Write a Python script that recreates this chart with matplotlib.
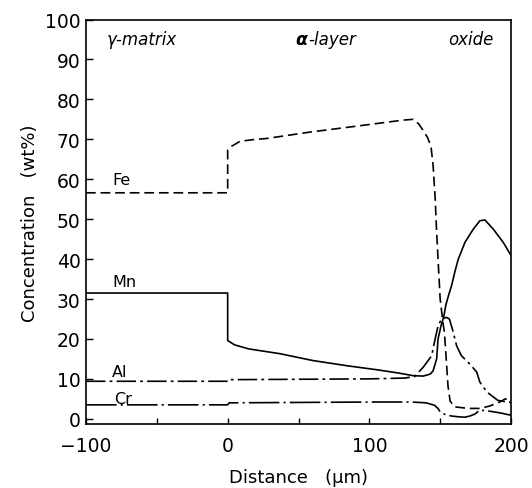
import matplotlib
matplotlib.use("Agg")
import matplotlib.pyplot as plt

plt.rcParams['font.family'] = ['DejaVu Sans']
plt.rcParams['lines.scale_dashes'] = False

# ---- data ----
fe_x = [-100, 0, 0, 3, 8.7, 20, 27.5, 58, 93.4, 123.8, 131, 135, 138, 141, 143.5, 145, 146.5,
        147.5, 148.5, 150, 152, 153, 154.6, 155.5, 157, 160, 170, 178, 185, 192, 196, 200]
fe_y = [56.6, 56.6, 67.3, 68.3, 69.5, 70, 70.2, 71.8, 73.4, 74.8, 75, 73.8, 72.2, 70.5, 68.3, 63.5, 55,
        46.8, 40, 30, 24, 21.7, 13.3, 8.3, 4.5, 3.0, 2.6, 2.6, 3.2, 4.2, 5.0, 4.5]

mn_x = [-100, 0, 0, 5, 15, 37, 60, 84, 105, 120, 131, 138, 143, 145, 147.5, 148.5,
        150.6, 152.5, 154, 156, 158, 160.5, 162.8, 167.5, 173.4, 178, 181.6, 187.5, 194.5, 200]
mn_y = [31.5, 31.5, 19.6, 18.5, 17.5, 16.3, 14.6, 13.3, 12.3, 11.5, 10.8, 10.7, 11.2, 12, 15, 20,
        23.3, 25.5, 28.5, 31, 33.3, 37, 40, 44.2, 47.5, 49.6, 49.8, 47.5, 44.2, 40.9]

al_x = [-100, 0, 0.5, 50, 100, 125, 132, 138, 144, 146.4, 148.5, 151, 154.6, 156.5,
        159, 161.6, 165, 171, 175.8, 178, 183, 190.8, 198, 200]
al_y = [9.4, 9.4, 9.8, 9.9, 10.0, 10.2, 10.6, 12.9, 15.8, 19.9, 23.3, 25, 25.4, 25,
        22, 18.3, 15.8, 13.7, 11.7, 9.2, 6.7, 4.6, 4.2, 4.1]

cr_x = [-100, 0, 1, 50, 100, 130, 140, 146, 148.7, 150, 154, 158, 163, 167.5, 171,
        174.6, 178, 185, 192, 200]
cr_y = [3.5, 3.5, 4.0, 4.1, 4.2, 4.2, 4.0, 3.4, 2.5, 1.7, 1.0, 0.7, 0.5, 0.4, 0.7,
        1.2, 2.2, 1.9, 1.5, 0.9]

series_names = ['Fe', 'Mn', 'Al', 'Cr']
label_pos = {'Fe': (-81.6, 60.0), 'Mn': (-81.6, 34.4), 'Al': (-81.6, 11.8), 'Cr': (-80.5, 5.2)}

x_major = [-100, 0, 100, 200]
x_minor = [-50, 50, 150]
y_ticks = list(range(0, 101, 10))

# ---- figure ----
fig = plt.figure(figsize=(5.32, 4.89), dpi=100)
ax = fig.add_axes([86/532, 1-425/489, (511-86)/532, (425-20.5)/489])

lw = 1.2
ax.plot(fe_x, fe_y, color='black', lw=lw, dashes=(7, 3.5))
ax.plot(mn_x, mn_y, color='black', lw=lw, linestyle='-')
ax.plot(al_x, al_y, color='black', lw=lw, dashes=(14, 3, 2, 3))
ax.plot(cr_x, cr_y, color='black', lw=lw, dashes=(22, 3, 1.5, 3))

ax.set_xlim(-100, 200)
ax.set_ylim(-1.3, 100)

ax.set_xticks(x_major)
ax.set_xticks(x_minor, minor=True)
ax.set_yticks(y_ticks)
ax.set_xticklabels(['\u2212100', '0', '100', '200'])

ax.tick_params(axis='both', which='both', direction='in', top=False, right=False,
               labelsize=13.5, width=1.0, color='black')
ax.tick_params(axis='x', which='major', length=4, pad=9)
ax.tick_params(axis='x', which='minor', length=4)
ax.tick_params(axis='y', which='major', length=5, pad=4)

for s in ax.spines.values():
    s.set_linewidth(1.2)

ax.set_xlabel('Distance   (\u00b5m)', fontsize=13, labelpad=9)
ax.set_ylabel('Concentration   (wt%)', fontsize=13, labelpad=4)

# element labels
for name in series_names:
    x, y = label_pos[name]
    ax.text(x, y, name, fontsize=11.5, ha='left', va='center')

# region labels
ax.text(-85.2, 95, '\u03b3-matrix', fontsize=12, style='italic', ha='left', va='center')
t1 = ax.text(47.5, 95, '\u03b1', fontsize=12.5, weight='bold', style='italic',
             ha='left', va='center')
ax.annotate('-layer', xy=(1, 0), xycoords=t1, xytext=(1, 0), textcoords='offset points',
            fontsize=12, style='italic', ha='left', va='bottom')
ax.text(155.5, 95, 'oxide', fontsize=12, style='italic', ha='left', va='center')

fig.savefig('out.png', dpi=100)
